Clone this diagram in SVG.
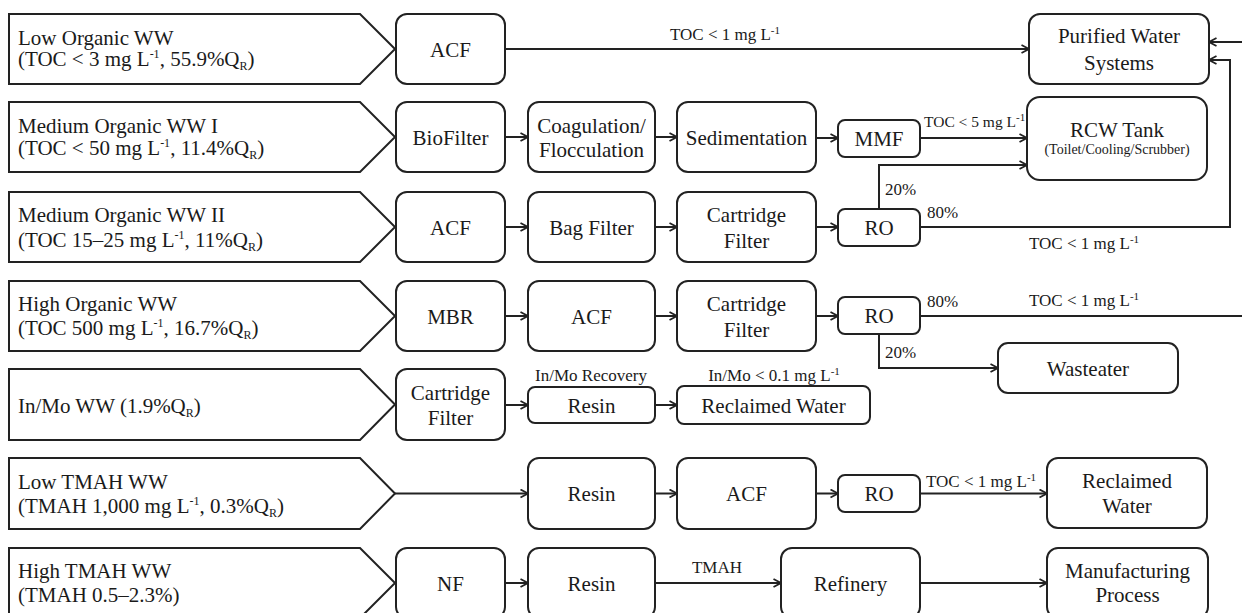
<svg xmlns="http://www.w3.org/2000/svg" width="1242" height="613" viewBox="0 0 1242 613">
<style>
.box{fill:#fff;stroke:#222;stroke-width:2}
.t{font-family:"Liberation Serif","Times New Roman",serif;font-size:21px;fill:#1a1a1a}
.c{text-anchor:middle}
.l{font-size:17px}
.s{font-size:12px}
.ls{font-size:11px}
#connectors path{fill:none;stroke:#222;stroke-width:2}
</style>
<defs>
<marker id="a" markerWidth="10" markerHeight="10" refX="9" refY="5" orient="auto" markerUnits="userSpaceOnUse">
<path d="M1.5,1 L9,5 L1.5,9" fill="none" stroke="#222" stroke-width="1.8"/>
</marker>
</defs>
<rect width="1242" height="613" fill="#fff"/>

<!-- input pentagons -->
<g id="in1"><path class="box" d="M9,14 H360 L395,49 L360,84 H9 Z"/>
<text class="t" x="18" y="45">Low Organic WW</text>
<text class="t" x="18" y="66">(TOC &lt; 3 mg L<tspan class="s" dy="-8">-1</tspan><tspan dy="8">, 55.9%Q</tspan><tspan class="s" dy="4">R</tspan><tspan dy="-4">)</tspan></text></g>
<g id="in2"><path class="box" d="M9,102 H360 L395,137 L360,172 H9 Z"/>
<text class="t" x="18" y="133">Medium Organic WW I</text>
<text class="t" x="18" y="155">(TOC &lt; 50 mg L<tspan class="s" dy="-8">-1</tspan><tspan dy="8">, 11.4%Q</tspan><tspan class="s" dy="4">R</tspan><tspan dy="-4">)</tspan></text></g>
<g id="in3"><path class="box" d="M9,192 H360 L395,227 L360,262 H9 Z"/>
<text class="t" x="18" y="222">Medium Organic WW II</text>
<text class="t" x="18" y="247">(TOC 15–25 mg L<tspan class="s" dy="-8">-1</tspan><tspan dy="8">, 11%Q</tspan><tspan class="s" dy="4">R</tspan><tspan dy="-4">)</tspan></text></g>
<g id="in4"><path class="box" d="M9,281 H360 L395,316 L360,351 H9 Z"/>
<text class="t" x="18" y="311">High Organic WW</text>
<text class="t" x="18" y="335">(TOC 500 mg L<tspan class="s" dy="-8">-1</tspan><tspan dy="8">, 16.7%Q</tspan><tspan class="s" dy="4">R</tspan><tspan dy="-4">)</tspan></text></g>
<g id="in5"><path class="box" d="M9,369 H360 L395,404.5 L360,440 H9 Z"/>
<text class="t" x="18" y="413">In/Mo WW (1.9%Q<tspan class="s" dy="4">R</tspan><tspan dy="-4">)</tspan></text></g>
<g id="in6"><path class="box" d="M9,458 H360 L395,493.5 L360,529 H9 Z"/>
<text class="t" x="18" y="489">Low TMAH WW</text>
<text class="t" x="18" y="513">(TMAH 1,000 mg L<tspan class="s" dy="-8">-1</tspan><tspan dy="8">, 0.3%Q</tspan><tspan class="s" dy="4">R</tspan><tspan dy="-4">)</tspan></text></g>
<g id="in7"><path class="box" d="M9,548 H360 L395,583 L360,618 H9 Z"/>
<text class="t" x="18" y="578">High TMAH WW</text>
<text class="t" x="18" y="602">(TMAH 0.5–2.3%)</text></g>

<!-- row 1 -->
<g id="acf1"><rect class="box" x="396" y="14" width="109" height="70" rx="11"/><text class="t c" x="450.5" y="57">ACF</text></g>
<g id="pws"><rect class="box" x="1029" y="14" width="180" height="70" rx="11"/><text class="t c" x="1119" y="43">Purified Water</text><text class="t c" x="1119" y="70">Systems</text></g>

<!-- row 2 -->
<g id="bio"><rect class="box" x="396" y="102" width="109" height="70" rx="11"/><text class="t c" x="450.5" y="145">BioFilter</text></g>
<g id="coag"><rect class="box" x="528" y="102" width="127" height="70" rx="11"/><text class="t c" x="591.5" y="133">Coagulation/</text><text class="t c" x="591.5" y="157">Flocculation</text></g>
<g id="sed"><rect class="box" x="677" y="102" width="139" height="70" rx="11"/><text class="t c" x="746.5" y="145">Sedimentation</text></g>
<g id="mmf"><rect class="box" x="838" y="120" width="82" height="37" rx="7"/><text class="t c" x="879" y="146">MMF</text></g>
<g id="rcw"><rect class="box" x="1027" y="97" width="180" height="83" rx="13"/><text class="t c" x="1117" y="137">RCW Tank</text><text class="t c" x="1117" y="154" style="font-size:14px">(Toilet/Cooling/Scrubber)</text></g>

<!-- row 3 -->
<g id="acf3"><rect class="box" x="396" y="192" width="109" height="70" rx="11"/><text class="t c" x="450.5" y="235">ACF</text></g>
<g id="bag"><rect class="box" x="528" y="192" width="127" height="70" rx="11"/><text class="t c" x="591.5" y="235">Bag Filter</text></g>
<g id="cart3"><rect class="box" x="677" y="192" width="139" height="70" rx="11"/><text class="t c" x="746.5" y="222">Cartridge</text><text class="t c" x="746.5" y="248">Filter</text></g>
<g id="ro3"><rect class="box" x="838" y="209" width="82" height="37" rx="7"/><text class="t c" x="879" y="235">RO</text></g>

<!-- row 4 -->
<g id="mbr"><rect class="box" x="396" y="281" width="109" height="70" rx="11"/><text class="t c" x="450.5" y="324">MBR</text></g>
<g id="acf4"><rect class="box" x="528" y="281" width="127" height="70" rx="11"/><text class="t c" x="591.5" y="324">ACF</text></g>
<g id="cart4"><rect class="box" x="677" y="281" width="139" height="70" rx="11"/><text class="t c" x="746.5" y="311">Cartridge</text><text class="t c" x="746.5" y="337">Filter</text></g>
<g id="ro4"><rect class="box" x="838" y="297" width="82" height="37" rx="7"/><text class="t c" x="879" y="323">RO</text></g>
<g id="waste"><rect class="box" x="998" y="343" width="180" height="50" rx="10"/><text class="t c" x="1088" y="376">Wasteater</text></g>

<!-- row 5 -->
<g id="cart5"><rect class="box" x="396" y="369" width="109" height="71" rx="11"/><text class="t c" x="450.5" y="400">Cartridge</text><text class="t c" x="450.5" y="425">Filter</text></g>
<g id="resin5"><rect class="box" x="528" y="387" width="127" height="36" rx="7"/><text class="t c" x="591.5" y="413">Resin</text></g>
<g id="rec5"><rect class="box" x="677" y="386" width="193" height="38" rx="7"/><text class="t c" x="773.5" y="413">Reclaimed Water</text></g>

<!-- row 6 -->
<g id="resin6"><rect class="box" x="528" y="458" width="127" height="71" rx="11"/><text class="t c" x="591.5" y="501">Resin</text></g>
<g id="acf6"><rect class="box" x="677" y="458" width="139" height="71" rx="11"/><text class="t c" x="746.5" y="501">ACF</text></g>
<g id="ro6"><rect class="box" x="838" y="475" width="82" height="37" rx="7"/><text class="t c" x="879" y="501">RO</text></g>
<g id="rec6"><rect class="box" x="1047" y="458" width="160" height="70" rx="11"/><text class="t c" x="1127" y="488">Reclaimed</text><text class="t c" x="1127" y="513">Water</text></g>

<!-- row 7 -->
<g id="nf"><rect class="box" x="396" y="548" width="109" height="70" rx="11"/><text class="t c" x="450.5" y="591">NF</text></g>
<g id="resin7"><rect class="box" x="528" y="548" width="127" height="70" rx="11"/><text class="t c" x="591.5" y="591">Resin</text></g>
<g id="ref"><rect class="box" x="781" y="548" width="139" height="70" rx="11"/><text class="t c" x="850.5" y="591">Refinery</text></g>
<g id="manu"><rect class="box" x="1047" y="548" width="161" height="70" rx="11"/><text class="t c" x="1127.5" y="578">Manufacturing</text><text class="t c" x="1127.5" y="602">Process</text></g>

<g id="connectors">
<path d="M505,49 H1029" marker-end="url(#a)"/>
<path d="M505,137 H528" marker-end="url(#a)"/>
<path d="M655,137 H677" marker-end="url(#a)"/>
<path d="M816,138 H838" marker-end="url(#a)"/>
<path d="M920,138 H1027" marker-end="url(#a)"/>
<path d="M505,227 H528" marker-end="url(#a)"/>
<path d="M655,227 H677" marker-end="url(#a)"/>
<path d="M816,227 H838" marker-end="url(#a)"/>
<path d="M879,209 V165 H1027" marker-end="url(#a)"/>
<path d="M920,227 H1230 V60 H1209" marker-end="url(#a)"/>
<path d="M505,316 H528" marker-end="url(#a)"/>
<path d="M655,316 H677" marker-end="url(#a)"/>
<path d="M816,316 H838" marker-end="url(#a)"/>
<path d="M920,316 H1244"/>
<path d="M1244,42 H1209" marker-end="url(#a)"/>
<path d="M879,334 V368 H998" marker-end="url(#a)"/>
<path d="M505,405 H528" marker-end="url(#a)"/>
<path d="M655,405 H677" marker-end="url(#a)"/>
<path d="M395,493.5 H528" marker-end="url(#a)"/>
<path d="M655,493.5 H677" marker-end="url(#a)"/>
<path d="M816,493.5 H838" marker-end="url(#a)"/>
<path d="M920,493.5 H1047" marker-end="url(#a)"/>
<path d="M505,583 H528" marker-end="url(#a)"/>
<path d="M655,583 H781" marker-end="url(#a)"/>
<path d="M920,583 H1047" marker-end="url(#a)"/>
</g>

<g id="labels">
<text class="t l c" x="725" y="40">TOC &lt; 1 mg L<tspan class="ls" dy="-6">-1</tspan></text>
<text class="t" x="924" y="127" style="font-size:15.5px">TOC &lt; 5 mg L<tspan class="ls" dy="-6">-1</tspan></text>
<text class="t l" x="885" y="195">20%</text>
<text class="t l" x="927" y="218">80%</text>
<text class="t l" x="1029" y="249">TOC &lt; 1 mg L<tspan class="ls" dy="-6">-1</tspan></text>
<text class="t l" x="927" y="307">80%</text>
<text class="t l" x="1029" y="306">TOC &lt; 1 mg L<tspan class="ls" dy="-6">-1</tspan></text>
<text class="t l" x="885" y="358">20%</text>
<text class="t l c" x="591" y="381">In/Mo Recovery</text>
<text class="t l c" x="774" y="381">In/Mo &lt; 0.1 mg L<tspan class="ls" dy="-6">-1</tspan></text>
<text class="t l" x="926" y="487">TOC &lt; 1 mg L<tspan class="ls" dy="-6">-1</tspan></text>
<text class="t l c" x="717" y="573">TMAH</text>
</g>
</svg>
